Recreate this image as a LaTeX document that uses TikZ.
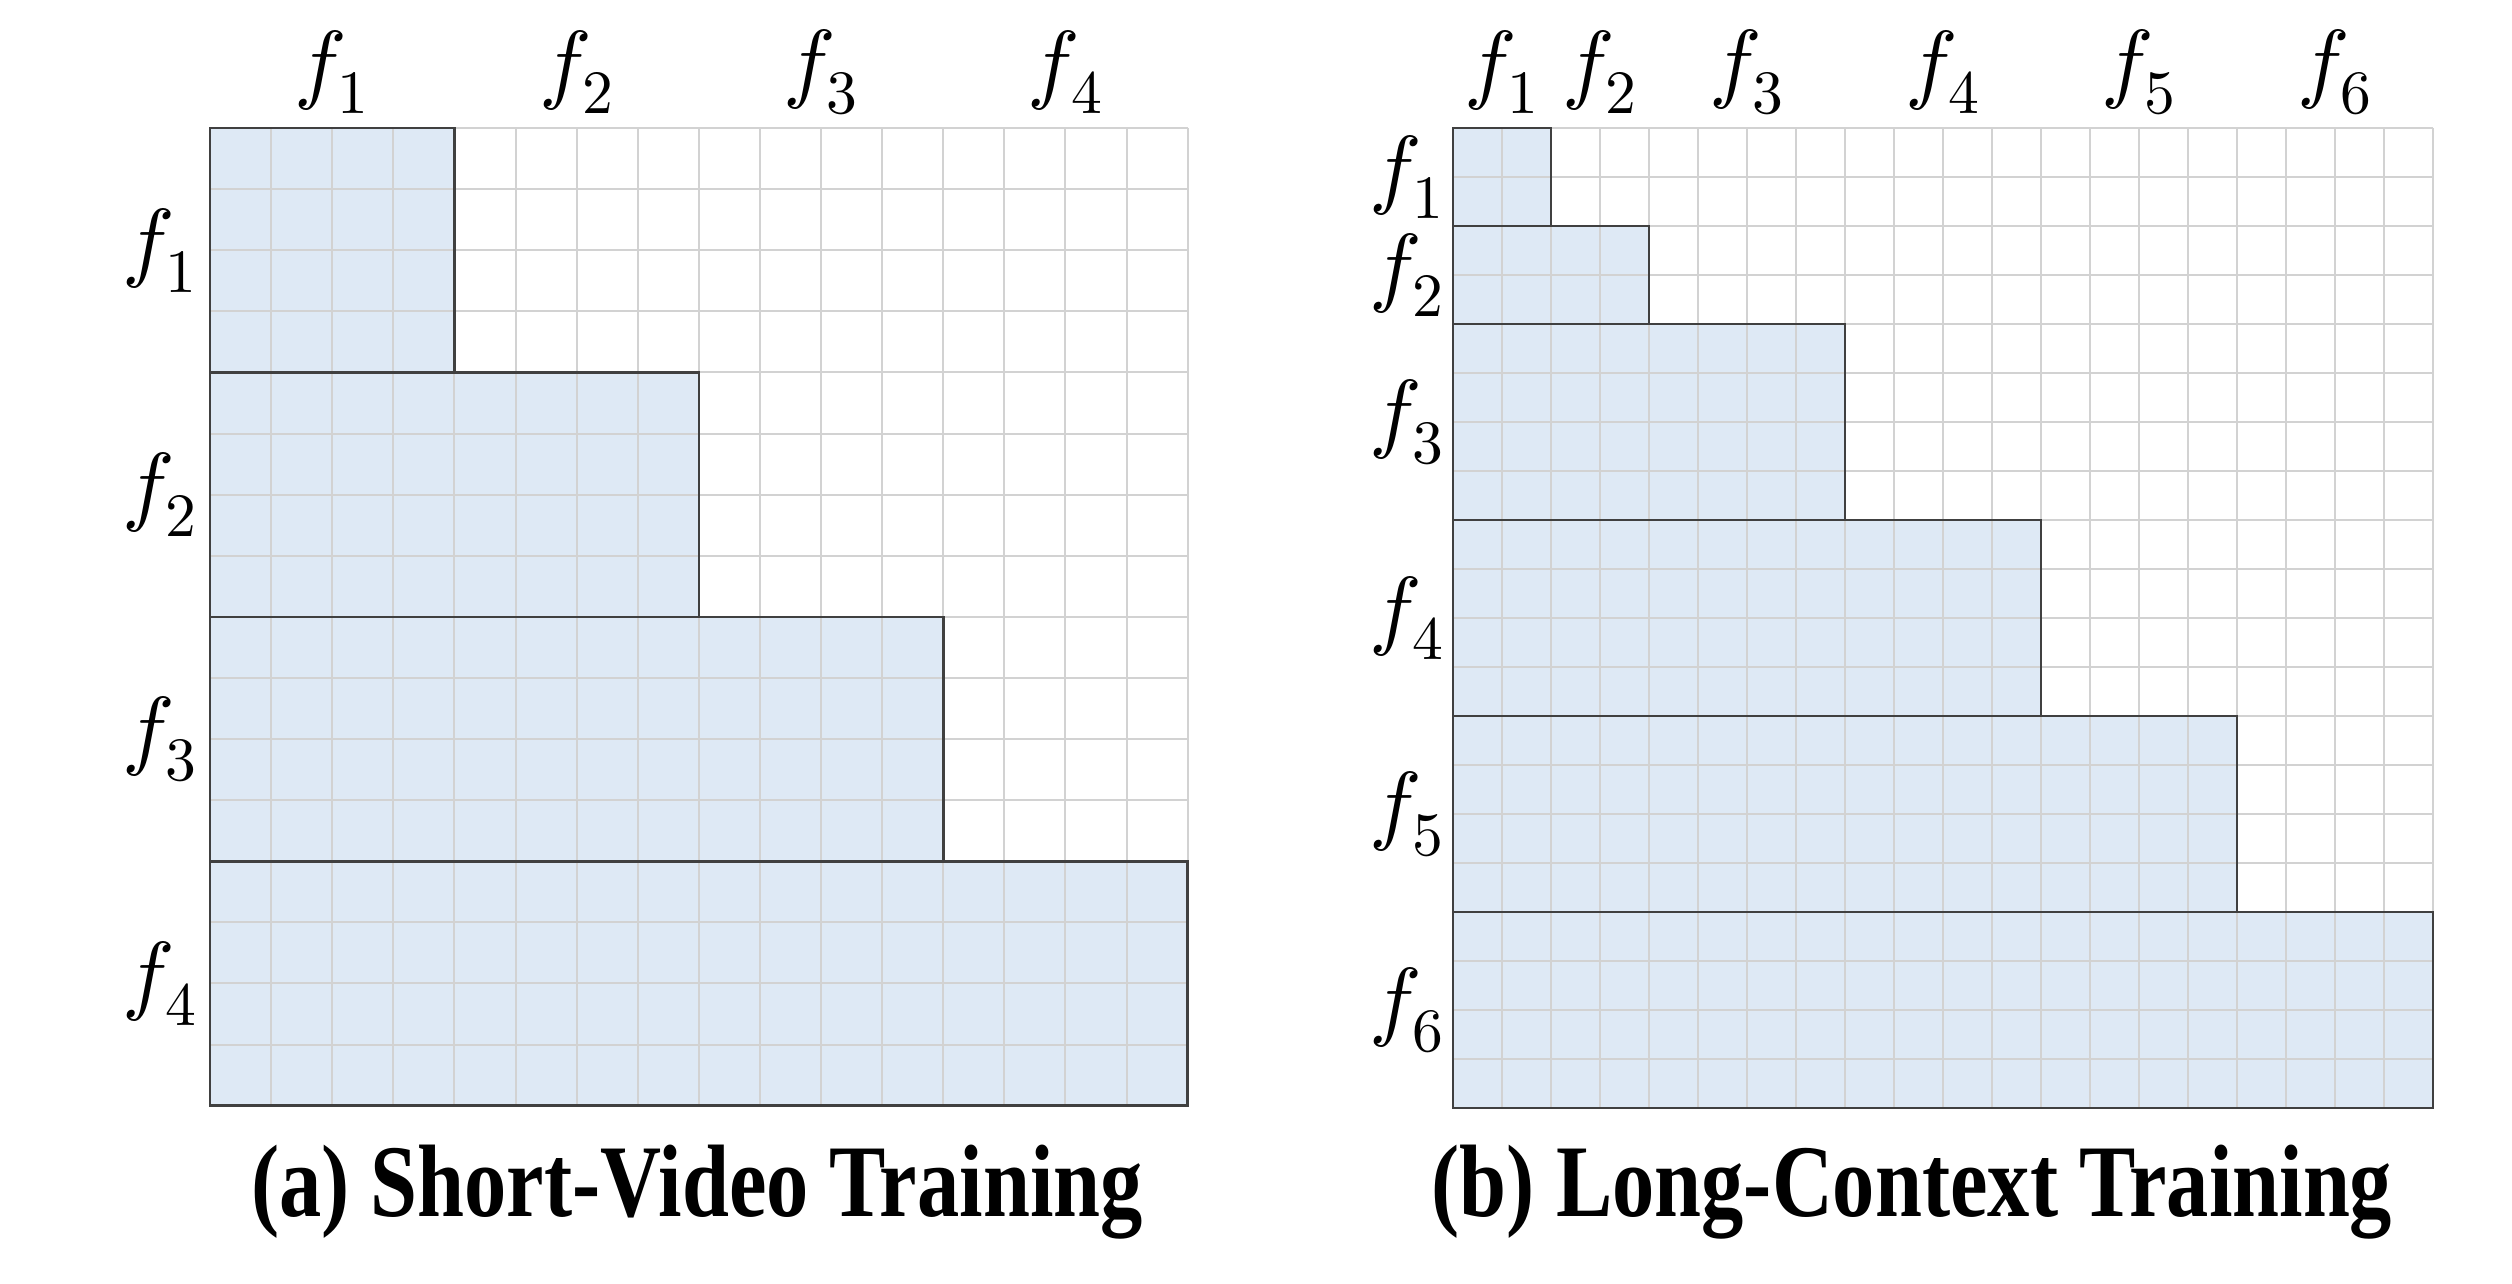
\documentclass[tikz,border=0pt]{standalone}
\usepackage{fontspec}
\usepackage{unicode-math}
\setmathfont{Latin Modern Math}
\newfontfamily\capfont{Liberation Serif}
\usepackage{graphicx}
\definecolor{cellblue}{HTML}{DEE9F5}
\definecolor{gridgray}{HTML}{D2D2D2}
\definecolor{edgegray}{HTML}{404040}
\begin{document}
\begin{tikzpicture}[x=0.5pt,y=-0.5pt,
  gridline/.style={draw=gridgray, line width=1pt},
  blockedge/.style={draw=edgegray, line width=1.3pt},
  flabel/.style={font=\fontsize{44}{52}\selectfont, inner sep=0pt, anchor=center},
  captext/.style={font=\capfont\bfseries\fontsize{51.5}{60}\selectfont, anchor=base, inner sep=0pt}]
\useasboundingbox (0,0) rectangle (2512,1284);
% ---------- left panel ----------
\def\Lx{210}\def\Ly{128}\def\Lc{61.1}
\foreach \i in {1,...,4}
  \fill[cellblue] (\Lx,{\Ly+4*(\i-1)*\Lc}) rectangle ({\Lx+4*\i*\Lc},{\Ly+4*\i*\Lc});
\foreach \k in {0,...,16}{
  \draw[gridline] ({\Lx+\k*\Lc},\Ly) -- ({\Lx+\k*\Lc},{\Ly+16*\Lc});
  \draw[gridline] (\Lx,{\Ly+\k*\Lc}) -- ({\Lx+16*\Lc},{\Ly+\k*\Lc});
}
\foreach \i in {1,...,4}
  \draw[blockedge] (\Lx,{\Ly+4*(\i-1)*\Lc}) rectangle ({\Lx+4*\i*\Lc},{\Ly+4*\i*\Lc});
\foreach \i in {1,...,4}{
  \node[flabel] (lt\i) at ({\Lx+(4*\i-2)*\Lc},72) {$f_{\i}$};
  \node[flabel] (ls\i) at (160,{\Ly+(4*\i-2)*\Lc}) {$f_{\i}$};
}
\node[captext] (capa) at (697,1216) {\scalebox{0.82}[1]{(a) Short-Video Training}};
% ---------- right panel ----------
\def\Rx{1453}\def\Ry{128}\def\Rc{49}
\foreach \a/\b/\w in {0/2/2,2/4/4,4/8/8,8/12/12,12/16/16,16/20/20}
  \fill[cellblue] (\Rx,{\Ry+\a*\Rc}) rectangle ({\Rx+\w*\Rc},{\Ry+\b*\Rc});
\foreach \k in {0,...,20}{
  \draw[gridline] ({\Rx+\k*\Rc},\Ry) -- ({\Rx+\k*\Rc},{\Ry+20*\Rc});
  \draw[gridline] (\Rx,{\Ry+\k*\Rc}) -- ({\Rx+20*\Rc},{\Ry+\k*\Rc});
}
\foreach \a/\b/\w in {0/2/2,2/4/4,4/8/8,8/12/12,12/16/16,16/20/20}
  \draw[blockedge] (\Rx,{\Ry+\a*\Rc}) rectangle ({\Rx+\w*\Rc},{\Ry+\b*\Rc});
\foreach \i/\m in {1/1,2/3,3/6,4/10,5/14,6/18}{
  \node[flabel] (rt\i) at ({\Rx+\m*\Rc},72) {$f_{\i}$};
  \node[flabel] (rs\i) at (1407,{\Ry+\m*\Rc}) {$f_{\i}$};
}
\node[captext] (capb) at (1912,1216) {\scalebox{0.82}[1]{(b) Long-Context Training}};
\end{tikzpicture}
\end{document}
